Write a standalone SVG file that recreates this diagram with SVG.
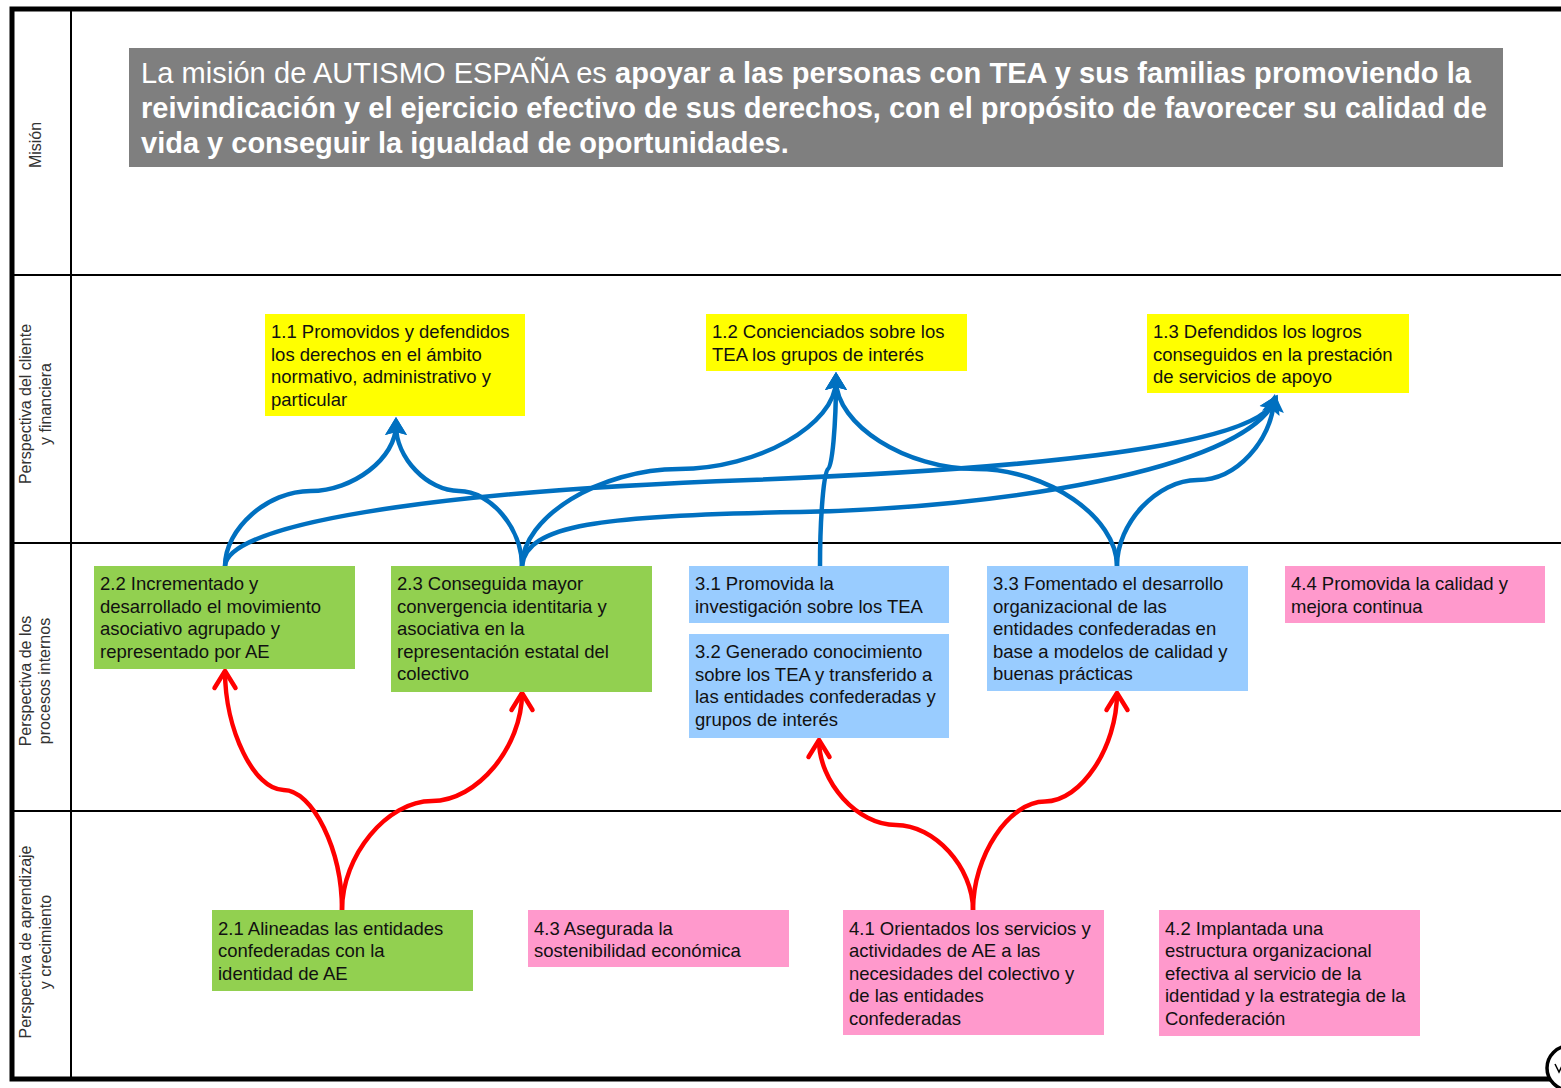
<svg xmlns="http://www.w3.org/2000/svg" width="1561" height="1088" viewBox="0 0 1561 1088">
<style>
.lane{font-family:"Liberation Sans",Arial,sans-serif;font-size:16px;fill:#333;text-anchor:middle}
.nt{font-family:"Liberation Sans",Arial,sans-serif;font-size:18.5px;fill:#111}
.mt{font-family:"Liberation Sans",Arial,sans-serif;font-size:29px;fill:#fff}
.b{font-weight:bold}
.y{fill:#FFFF00}.g{fill:#92D050}.bl{fill:#99CCFF}.p{fill:#FF99CC}
.cb{fill:none;stroke:#0070C0;stroke-width:4.5;marker-end:url(#ab)}
.cr{fill:none;stroke:#FF0000;stroke-width:4.5;marker-end:url(#ar)}
.sep{stroke:#000;stroke-width:2}
</style>
<defs>
<marker id="ab" markerUnits="userSpaceOnUse" viewBox="-20 -13 24 26" markerWidth="24" markerHeight="26" refX="-8" refY="0" orient="auto">
<path d="M0,0 L-18,-11 L-15,0 L-18,11 Z" fill="#0070C0"/>
</marker>
<marker id="ar" markerUnits="userSpaceOnUse" viewBox="-22 -14 26 28" markerWidth="26" markerHeight="28" refX="0" refY="0" orient="auto">
<path d="M-17,-10.5 L0,0 L-17,10.5" fill="none" stroke="#FF0000" stroke-width="4.5" stroke-linejoin="round" stroke-linecap="round"/>
</marker>
</defs>
<rect width="1561" height="1088" fill="#fff"/>
<g id="frame">
<rect x="12" y="9" width="1580" height="1070" fill="none" stroke="#000" stroke-width="5"/>
<line class="sep" x1="71" y1="9" x2="71" y2="1079"/>
<line class="sep" x1="12" y1="275" x2="1561" y2="275"/>
<line class="sep" x1="12" y1="543" x2="1561" y2="543"/>
<line class="sep" x1="12" y1="811" x2="1561" y2="811"/>
<circle cx="1569" cy="1068" r="22" fill="#fff" stroke="#000" stroke-width="3.5"/>
<path d="M1555,1064 L1559,1072 L1563,1064" fill="none" stroke="#000" stroke-width="1.5"/>
</g>
<g id="lanes">
<text class="lane" transform="translate(41,145) rotate(-90)">Misión</text>
<text class="lane" transform="translate(31,404) rotate(-90)">Perspectiva del cliente</text>
<text class="lane" transform="translate(51,404) rotate(-90)">y financiera</text>
<text class="lane" transform="translate(31,681) rotate(-90)">Perspectiva de los</text>
<text class="lane" transform="translate(50,681) rotate(-90)">procesos internos</text>
<text class="lane" transform="translate(31,942) rotate(-90)">Perspectiva de aprendizaje</text>
<text class="lane" transform="translate(51,942) rotate(-90)">y crecimiento</text>
</g>
<g id="mision">
<rect x="129" y="48" width="1374" height="119" fill="#7F7F7F"/>
<text class="mt" x="141" y="83" textLength="1330">La misión de AUTISMO ESPAÑA es <tspan class="b">apoyar a las personas con TEA y sus familias promoviendo la</tspan></text>
<text class="mt b" x="141" y="118">reivindicación y el ejercicio efectivo de sus derechos, con el propósito de favorecer su calidad de</text>
<text class="mt b" x="141" y="153">vida y conseguir la igualdad de oportunidades.</text>
</g>
<g id="connectors">
<path class="cb" d="M225,566 C225,528.5 267.75,491 310.5,491 C353.25,491 396,458 396,425"/>
<path class="cb" d="M522,566 C522,528.5 490.5,491 459,491 C427.5,491 396,458 396,425"/>
<path class="cb" d="M522,566 C522,517 600.5,469 679,469 C757.5,469 836,425 836,380"/>
<path class="cb" d="M820,566 C820,517 824,469 828,469 C832,469 836,425 836,380"/>
<path class="cb" d="M1117,566 C1117,517 1047,469 976.5,469 C906,469 836,425 836,380"/>
<path class="cb" d="M225,566 C228,525 420,492 750,480 C1000,470 1250,450 1274,402"/>
<path class="cb" d="M522,566 C526,525 600,515 800,512 C1000,508 1240,470 1274,402"/>
<path class="cb" d="M1117,566 C1117,523 1157,480 1197.5,480 C1238,480 1270,440 1274,402"/>
<path class="cr" d="M342,910 C342,850 312.75,790 283.5,790 C254.25,790 225,730 225,671"/>
<path class="cr" d="M342,910 C342,855.5 387,801 432,801 C477,801 522,747 522,693"/>
<path class="cr" d="M973,910 C973,867.5 934.5,825 896,825 C857.5,825 819,782.5 819,740"/>
<path class="cr" d="M973,910 C973,855.75 1009,801.5 1045,801.5 C1081,801.5 1117,747.25 1117,693"/>
</g>
<g id="n11"><rect class="y" x="265" y="314" width="260" height="102"/>
<text class="nt" x="271" y="338">1.1 Promovidos y defendidos</text><text class="nt" x="271" y="360.5">los derechos en el ámbito</text><text class="nt" x="271" y="383">normativo, administrativo y</text><text class="nt" x="271" y="405.5">particular</text></g>
<g id="n12"><rect class="y" x="706" y="314" width="261" height="57"/>
<text class="nt" x="712" y="338">1.2 Concienciados sobre los</text><text class="nt" x="712" y="360.5">TEA los grupos de interés</text></g>
<g id="n13"><rect class="y" x="1147" y="314" width="262" height="79"/>
<text class="nt" x="1153" y="338">1.3 Defendidos los logros</text><text class="nt" x="1153" y="360.5">conseguidos en la prestación</text><text class="nt" x="1153" y="383">de servicios de apoyo</text></g>
<g id="n22"><rect class="g" x="94" y="566" width="261" height="103"/>
<text class="nt" x="100" y="590">2.2 Incrementado y</text><text class="nt" x="100" y="612.5">desarrollado el movimiento</text><text class="nt" x="100" y="635">asociativo agrupado y</text><text class="nt" x="100" y="657.5">representado por AE</text></g>
<g id="n23"><rect class="g" x="391" y="566" width="261" height="126"/>
<text class="nt" x="397" y="590">2.3 Conseguida mayor</text><text class="nt" x="397" y="612.5">convergencia identitaria y</text><text class="nt" x="397" y="635">asociativa en la</text><text class="nt" x="397" y="657.5">representación estatal del</text><text class="nt" x="397" y="680">colectivo</text></g>
<g id="n31"><rect class="bl" x="689" y="566" width="260" height="57"/>
<text class="nt" x="695" y="590">3.1 Promovida la</text><text class="nt" x="695" y="612.5">investigación sobre los TEA</text></g>
<g id="n32"><rect class="bl" x="689" y="634" width="260" height="104"/>
<text class="nt" x="695" y="658">3.2 Generado conocimiento</text><text class="nt" x="695" y="680.5">sobre los TEA y transferido a</text><text class="nt" x="695" y="703">las entidades confederadas y</text><text class="nt" x="695" y="725.5">grupos de interés</text></g>
<g id="n33"><rect class="bl" x="987" y="566" width="261" height="125"/>
<text class="nt" x="993" y="590">3.3 Fomentado el desarrollo</text><text class="nt" x="993" y="612.5">organizacional de las</text><text class="nt" x="993" y="635">entidades confederadas en</text><text class="nt" x="993" y="657.5">base a modelos de calidad y</text><text class="nt" x="993" y="680">buenas prácticas</text></g>
<g id="n44"><rect class="p" x="1285" y="566" width="260" height="57"/>
<text class="nt" x="1291" y="590">4.4 Promovida la calidad y</text><text class="nt" x="1291" y="612.5">mejora continua</text></g>
<g id="n21"><rect class="g" x="212" y="910" width="261" height="81"/>
<text class="nt" x="218" y="934.5">2.1 Alineadas las entidades</text><text class="nt" x="218" y="957">confederadas con la</text><text class="nt" x="218" y="979.5">identidad de AE</text></g>
<g id="n43"><rect class="p" x="528" y="910" width="261" height="57"/>
<text class="nt" x="534" y="934.5">4.3 Asegurada la</text><text class="nt" x="534" y="957">sostenibilidad económica</text></g>
<g id="n41"><rect class="p" x="843" y="910" width="261" height="125"/>
<text class="nt" x="849" y="934.5">4.1 Orientados los servicios y</text><text class="nt" x="849" y="957">actividades de AE a las</text><text class="nt" x="849" y="979.5">necesidades del colectivo y</text><text class="nt" x="849" y="1002">de las entidades</text><text class="nt" x="849" y="1024.5">confederadas</text></g>
<g id="n42"><rect class="p" x="1159" y="910" width="261" height="126"/>
<text class="nt" x="1165" y="934.5">4.2 Implantada una</text><text class="nt" x="1165" y="957">estructura organizacional</text><text class="nt" x="1165" y="979.5">efectiva al servicio de la</text><text class="nt" x="1165" y="1002">identidad y la estrategia de la</text><text class="nt" x="1165" y="1024.5">Confederación</text></g>
</svg>
